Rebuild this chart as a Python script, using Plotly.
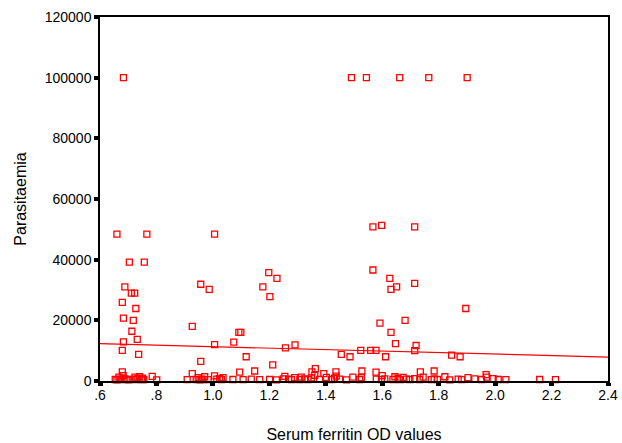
import plotly.graph_objects as go

# Serum ferritin OD values (x) and parasitaemia (y)
upper_x = [0.683, 1.491, 1.544, 1.662, 1.765, 1.901,
           0.660, 0.766, 1.006, 1.567, 1.598, 1.715,
           0.704, 0.757, 1.567, 1.198, 1.227, 1.627, 0.957, 1.715,
           0.688, 1.177, 1.651, 1.631, 0.987, 0.711, 0.723, 1.202,
           0.679, 0.727, 1.896, 0.683, 0.718, 1.681, 1.592, 0.927,
           0.713, 1.092, 1.099, 1.631, 0.732, 0.683, 1.074, 1.647,
           1.006, 1.291, 1.720, 1.257, 0.679, 1.524, 1.559, 1.578,
           1.715, 0.737, 1.455, 1.846, 1.118, 1.486, 1.612, 1.876,
           0.957, 1.212, 1.363, 1.148, 1.528, 1.784, 0.679, 1.351,
           1.436, 1.735, 1.095, 1.578, 0.927, 1.393, 1.968]
upper_y = [100000, 100000, 100000, 100000, 100000, 100000,
           48400, 48400, 48400, 50800, 51300, 50800,
           39200, 39200, 36600, 35700, 33800, 33800, 31900, 32200,
           31000, 31000, 31000, 30200, 30200, 29000, 29000, 27800,
           25900, 23900, 23900, 20700, 20000, 20000, 19100, 18000,
           16400, 16000, 16000, 16000, 13700, 12900, 12800, 12300,
           12000, 11900, 11700, 10900, 10100, 10100, 10100, 10100,
           10000, 8800, 8800, 8500, 8000, 8000, 8000, 8000,
           6500, 5300, 4100, 3300, 3300, 3300, 3000, 3000,
           3000, 3000, 2900, 2900, 2400, 2400, 2100]

low_x = [0.654, 0.660, 0.667, 0.671, 0.675, 0.682, 0.688, 0.695, 0.703, 0.720,
         0.724, 0.728, 0.734, 0.740, 0.747, 0.751, 0.755, 0.785, 0.801,
         0.909, 0.941, 0.948, 0.954, 0.959, 0.965, 0.971, 0.983, 1.006, 1.014,
         1.024, 1.030, 1.036, 1.071, 1.107, 1.136, 1.166, 1.201, 1.225, 1.250,
         1.255, 1.268, 1.278, 1.290, 1.308, 1.313, 1.325,
         1.337, 1.349, 1.361, 1.378, 1.402, 1.420, 1.431, 1.437, 1.449, 1.473,
         1.496, 1.520, 1.526, 1.579, 1.597, 1.600, 1.609, 1.638, 1.645, 1.656,
         1.662, 1.674, 1.686,
         1.698, 1.715, 1.733, 1.745, 1.774, 1.784, 1.796, 1.822, 1.839, 1.869,
         1.881, 1.904, 1.928, 1.952, 1.970, 1.993, 2.011, 2.038, 2.158, 2.214]
low_y = [500, 400, 1300, 600, 450, 1800, 700, 500, 400, 600,
         1300, 450, 800, 1400, 500, 900, 450, 1500, 400,
         450, 500, 1100, 400, 650, 500, 1400, 450, 1700, 600,
         800, 450, 1100, 500, 450, 600, 450, 500, 400, 700,
         1500, 600, 450, 1100, 500, 1300, 700,
         450, 1000, 1900, 550, 1200, 500, 900, 1600, 600, 400,
         1300, 500, 1100, 600, 450, 1800, 700, 500, 1400, 900,
         450, 1200, 600,
         500, 800, 450, 1300, 450, 700, 500, 1400, 400, 600,
         450, 1100, 700, 500, 1300, 800, 500, 450, 500, 450]

# Fitted regression line end points
fit_x = [0.6, 2.4]
fit_y = [12300, 7900]

x_ticks = [0.6, 0.8, 1.0, 1.2, 1.4, 1.6, 1.8, 2.0, 2.2, 2.4]
x_tick_labels = [".6", ".8", "1.0", "1.2", "1.4", "1.6", "1.8", "2.0", "2.2", "2.4"]
y_ticks = [0, 20000, 40000, 60000, 80000, 100000, 120000]
y_tick_labels = ["0", "20000", "40000", "60000", "80000", "100000", "120000"]

FONT = "Liberation Sans, Arial, sans-serif"
RED = "#ff0000"

fig = go.Figure()
fig.add_trace(go.Scatter(
    x=fit_x, y=fit_y, mode="lines",
    line=dict(color=RED, width=1.2), showlegend=False, hoverinfo="skip"))
fig.add_trace(go.Scatter(
    x=upper_x + low_x, y=upper_y + low_y, mode="markers",
    marker=dict(symbol="square-open", size=6, color=RED,
                line=dict(color=RED, width=1.3)),
    cliponaxis=False, showlegend=False))

fig.update_layout(
    width=622, height=443,
    margin=dict(l=100, r=14, t=17, b=62),
    paper_bgcolor="white", plot_bgcolor="white",
    font=dict(family=FONT, color="black", size=14),
)
fig.update_xaxes(
    range=[0.6, 2.4], tickvals=x_ticks, ticktext=x_tick_labels,
    showgrid=False, zeroline=False, showline=True, linecolor="black",
    linewidth=1.5, mirror=True, ticks="outside", ticklen=3, tickwidth=5,
    tickcolor="black", tickfont=dict(size=14, family=FONT),
    ticklabelstandoff=-3,
    title=dict(text="Serum ferritin OD values", font=dict(size=16, family=FONT),
               standoff=36),
    automargin=False,
)
fig.update_yaxes(
    range=[0, 120000], tickvals=y_ticks, ticktext=y_tick_labels,
    showgrid=False, zeroline=False, showline=True, linecolor="black",
    linewidth=1.5, mirror=True, ticks="outside", ticklen=4, tickwidth=4,
    tickcolor="black", tickfont=dict(size=14, family=FONT),
    title=dict(text="Parasitaemia", font=dict(size=16, family=FONT),
               standoff=14),
    automargin=False,
)

fig.write_html("out.html", config={"displayModeBar": False},
               post_script="document.body.style.margin='0';")
